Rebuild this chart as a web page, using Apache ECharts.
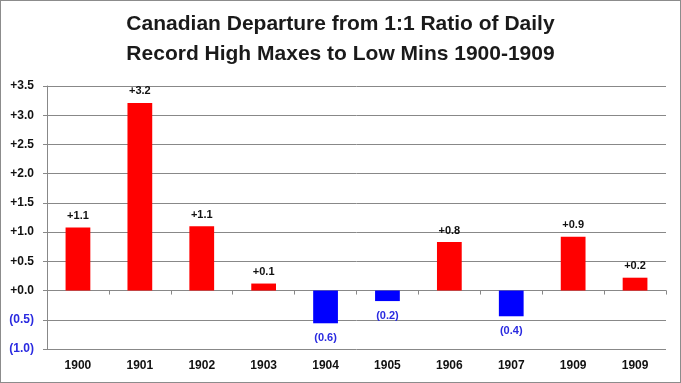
<!DOCTYPE html>
<html><head><meta charset="utf-8">
<script src="https://cdn.jsdelivr.net/npm/echarts@6/dist/echarts.min.js"></script>
<style>
html,body{margin:0;padding:0;background:#fff;}
#c{width:679px;height:381px;border:1px solid #8c8c8c;}
</style></head>
<body><div id="c"></div>
<script>
const titleLines = ['Canadian Departure from 1:1 Ratio of Daily', 'Record High Maxes to Low Mins 1900-1909'];
const categories = ['1900','1901','1902','1903','1904','1905','1906','1907','1909','1909 '];
const values = [1.08, 3.21, 1.10, 0.12, -0.56, -0.18, 0.83, -0.44, 0.92, 0.22];
const yTicks = {min: -1.0, max: 3.5, interval: 0.5};

function fmt(v) {
  if (v < 0) return '(' + Math.abs(v).toFixed(1) + ')';
  return '+' + v.toFixed(1);
}

const chart = echarts.init(document.getElementById('c'));
const barData = values.map(v => ({
  value: v,
  itemStyle: {color: v >= 0 ? '#ff0000' : '#0000ff'},
  label: {
    show: true,
    position: v >= 0 ? 'top' : 'bottom',
    distance: v >= 0 ? 6 : 9,
    color: v >= 0 ? '#111' : '#2a2ae0',
    formatter: () => fmt(v)
  }
}));

chart.setOption({
  animation: false,
  backgroundColor: '#fff',
  title: {
    text: titleLines.join('\n'),
    left: 'center',
    top: 3,
    textStyle: {fontFamily: 'Liberation Sans', fontWeight: 'bold', fontSize: 21, color: '#1a1a1a', lineHeight: 30}
  },
  grid: {left: 46, right: 14, top: 85, bottom: 33},
  xAxis: [
    {
      type: 'category', data: categories, position: 'bottom',
      axisLine: {show: false, onZero: false}, axisTick: {show: false},
      axisLabel: {margin: 11, fontFamily: 'Liberation Sans', fontWeight: 'bold', fontSize: 12, color: '#111',
        formatter: s => s.trim()}
    },
    {
      type: 'category', data: categories, position: 'bottom',
      axisLine: {show: true, onZero: true, lineStyle: {color: '#888', width: 1}},
      axisTick: {show: true, length: 4, inside: false, lineStyle: {color: '#888'}},
      axisLabel: {show: false}
    }
  ],
  yAxis: {
    type: 'value', min: yTicks.min, max: yTicks.max, interval: yTicks.interval,
    axisLine: {show: true, lineStyle: {color: '#888'}},
    axisTick: {show: true, length: 4, lineStyle: {color: '#888'}},
    splitLine: {show: true, lineStyle: {color: '#888', width: 1}},
    axisLabel: {
      margin: 13, fontFamily: 'Liberation Sans', fontWeight: 'bold', fontSize: 12,
      formatter: v => v < 0 ? '{n|' + fmt(v) + '}' : '{p|' + fmt(v) + '}',
      rich: {
        p: {color: '#111', fontFamily: 'Liberation Sans', fontWeight: 'bold', fontSize: 12},
        n: {color: '#2a2ae0', fontFamily: 'Liberation Sans', fontWeight: 'bold', fontSize: 12}
      }
    }
  },
  series: [{
    type: 'bar', xAxisIndex: 0, data: barData, barWidth: '40%',
    label: {fontFamily: 'Liberation Sans', fontWeight: 'bold', fontSize: 11}
  }]
});
</script></body></html>
